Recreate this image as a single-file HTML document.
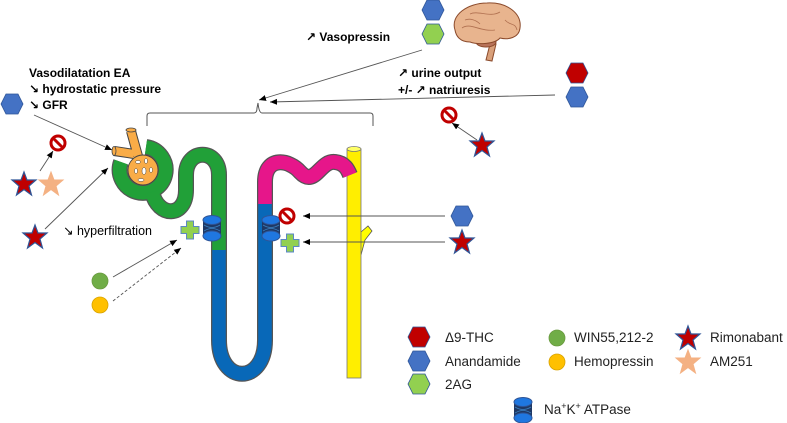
<!DOCTYPE html>
<html><head><meta charset="utf-8"><style>
html,body{margin:0;padding:0;background:#fff;}
svg{display:block;font-family:"Liberation Sans","DejaVu Sans",sans-serif;}
</style></head><body>
<svg width="787" height="423" viewBox="0 0 787 423" xmlns="http://www.w3.org/2000/svg">
<defs>
<marker id="ah" markerWidth="8" markerHeight="8" refX="7" refY="4" orient="auto" markerUnits="userSpaceOnUse">
<path d="M0,1 L7,4 L0,7 Z" fill="#000"/></marker>
<g id="hexB"><polygon points="-6,-10 6,-10 11,0 6,10 -6,10 -11,0" fill="#4472c4" stroke="#2f5597" stroke-width="0.8"/></g>
<g id="hexG"><polygon points="-6,-10 6,-10 11,0 6,10 -6,10 -11,0" fill="#92d050" stroke="#2f5597" stroke-width="0.8"/></g>
<g id="hexR"><polygon points="-6,-10 6,-10 11,0 6,10 -6,10 -11,0" fill="#c00000" stroke="#2f5597" stroke-width="0.8"/></g>
<g id="starR"><polygon points="0,-12 3,-4 12,-4 5,2 7.5,11 0,5.5 -7.5,11 -5,2 -12,-4 -3,-4" fill="#c00000" stroke="#2f5597" stroke-width="1.2"/></g>
<g id="starP"><polygon points="0,-12 3,-4 12,-4 5,2 7.5,11 0,5.5 -7.5,11 -5,2 -12,-4 -3,-4" fill="#f4b183" stroke="#f4b183" stroke-width="1"/></g>
<g id="nope"><circle r="7" fill="#fff" stroke="#c00000" stroke-width="3"/><line x1="-4.5" y1="-4.5" x2="4.5" y2="4.5" stroke="#c00000" stroke-width="3"/></g>
<g id="cross"><polygon points="-3.5,-9 3.5,-9 3.5,-3.5 9,-3.5 9,3.5 3.5,3.5 3.5,9 -3.5,9 -3.5,3.5 -9,3.5 -9,-3.5 -3.5,-3.5" fill="#92d050" stroke="#5b87c5" stroke-width="1"/></g>
<g id="pump"><rect x="-9" y="-9" width="18" height="18" fill="#1f3864"/><ellipse cx="0" cy="-8" rx="9" ry="4.5" fill="#1f77e0" stroke="#2f5597"/><ellipse cx="0" cy="8" rx="9" ry="5" fill="#1f77e0" stroke="#2f5597"/><path d="M-8,-3 Q0,2 8,-3 M-8,3 Q0,-2 8,3" stroke="#3a7fbf" stroke-width="0.8" fill="none"/></g>
</defs>

<!-- bracket -->
<path d="M147,126 L147,116 Q147,113 150,113 L254,113 Q257,113 257,108 L258,103 Q259,113 262,113 L370,113 Q373,113 373,116 L373,126" fill="none" stroke="#555" stroke-width="1"/>
<line x1="422" y1="50" x2="259" y2="100" stroke="#555" stroke-width="0.9" marker-end="url(#ah)"/>
<line x1="555" y1="95" x2="270" y2="102" stroke="#555" stroke-width="0.9" marker-end="url(#ah)"/>

<!-- collecting duct -->
<path d="M361,232 L368,226 L372,231 L365,240 L361,255" fill="#ffff00" stroke="#555" stroke-width="0.8"/>
<rect x="347" y="149" width="14" height="229" fill="#ffee00" stroke="#777" stroke-width="0.8"/>
<ellipse cx="354" cy="149" rx="7" ry="2.5" fill="#ffff66" stroke="#777" stroke-width="0.8"/>

<!-- nephron outline -->
<path d="M219,250 L219,175 C219,148 186,148 186,175 L186,190 C186,218 158,218 152,192" fill="none" stroke="#555" stroke-width="16"/>
<path d="M219,250 L219,340 C219,385 265,385 265,340 L265,200" fill="none" stroke="#555" stroke-width="16"/>
<path d="M265,205 L265,182 C265,155 290,160 300,172 C315,188 320,160 335,162 C345,163 348,170 350,175" fill="none" stroke="#555" stroke-width="16"/>
<path d="M146,147 A23,23 0 1 1 121,162" fill="none" stroke="#555" stroke-width="16"/>
<path d="M146,147 A23,23 0 1 1 121,162" fill="none" stroke="#21a038" stroke-width="13.5"/>
<path d="M219,250 L219,175 C219,148 186,148 186,175 L186,190 C186,218 158,218 152,192" fill="none" stroke="#21a038" stroke-width="13.5"/>
<path d="M219,250 L219,340 C219,385 265,385 265,340 L265,203" fill="none" stroke="#0868b8" stroke-width="13.5"/>
<path d="M265,204 L265,182 C265,155 290,160 300,172 C315,188 320,160 335,162 C345,163 348,170 350,175" fill="none" stroke="#e6168a" stroke-width="13.5"/>

<!-- glomerulus -->
<path d="M114,151 L134,154 M131,131 Q134,142 138,156" fill="none" stroke="#444" stroke-width="10"/>
<path d="M115,151 L134,154 M131,131 Q134,142 138,156" fill="none" stroke="#f9ac47" stroke-width="8"/>
<ellipse cx="114" cy="151" rx="2" ry="4.5" fill="#f9ac47" stroke="#444" stroke-width="0.8"/>
<ellipse cx="131" cy="130" rx="5" ry="2" fill="#f9ac47" stroke="#444" stroke-width="0.8"/>
<circle cx="143" cy="170" r="15" fill="#f9ac47" stroke="#444" stroke-width="0.9"/>
<g fill="#fff" stroke="#444" stroke-width="0.5">
<ellipse cx="138" cy="162" rx="2.5" ry="1.5"/><ellipse cx="146" cy="161" rx="1.5" ry="2.5"/><ellipse cx="136" cy="171" rx="1.5" ry="2.5"/><ellipse cx="144" cy="171" rx="2" ry="3.5"/><ellipse cx="151" cy="170" rx="1.5" ry="2.5"/><ellipse cx="141" cy="180" rx="3" ry="1.5"/>
</g>

<use href="#pump" x="212" y="228"/>
<use href="#cross" x="190" y="230"/>
<use href="#pump" x="271" y="228"/>
<use href="#nope" x="287" y="216"/>
<use href="#cross" x="290" y="243"/>

<line x1="445" y1="216" x2="303" y2="216" stroke="#555" stroke-width="0.9" marker-end="url(#ah)"/>
<line x1="445" y1="242" x2="303" y2="242" stroke="#555" stroke-width="0.9" marker-end="url(#ah)"/>
<use href="#hexB" x="462" y="216"/>
<use href="#starR" x="462" y="242"/>

<text x="29" y="77" font-size="12" font-weight="bold">Vasodilatation EA</text>
<text x="29" y="93" font-size="12" font-weight="bold">↘ hydrostatic pressure</text>
<text x="29" y="109" font-size="12" font-weight="bold">↘ GFR</text>
<use href="#hexB" x="12" y="104"/>
<line x1="34" y1="115" x2="112" y2="150" stroke="#555" stroke-width="0.9" marker-end="url(#ah)"/>
<use href="#nope" x="58" y="143"/>
<line x1="40" y1="171" x2="53" y2="151" stroke="#555" stroke-width="0.9" marker-end="url(#ah)"/>
<use href="#starR" x="24" y="184"/>
<use href="#starP" x="51" y="184"/>
<use href="#starR" x="35" y="237"/>
<line x1="45" y1="229" x2="108" y2="168" stroke="#555" stroke-width="0.9" marker-end="url(#ah)"/>
<text x="63" y="235" font-size="12.5">↘ hyperfiltration</text>
<circle cx="100" cy="281" r="8" fill="#70ad47" stroke="#6a9a40" stroke-width="0.8"/>
<circle cx="100" cy="305" r="8" fill="#ffc000" stroke="#d9a300" stroke-width="0.8"/>
<line x1="113" y1="277" x2="177" y2="240" stroke="#555" stroke-width="0.9" marker-end="url(#ah)"/>
<line x1="113" y1="301" x2="181" y2="248" stroke="#555" stroke-width="0.9" stroke-dasharray="3,2" marker-end="url(#ah)"/>

<text x="306" y="41" font-size="12" font-weight="bold">↗ Vasopressin</text>
<use href="#hexB" x="433" y="10"/>
<use href="#hexG" x="433" y="34"/>
<g stroke="#8b4a2b" stroke-width="1">
<path d="M490,44 L496,44 L492,61 L486,60 Z" fill="#d9a07a"/>
<ellipse cx="486" cy="42" rx="10" ry="5" fill="#b8735a"/>
<path d="M455,30 C450,15 468,3 487,3 C508,2 522,14 520,28 C519,38 508,40 500,38 C495,44 478,45 470,42 C460,42 456,36 455,30 Z" fill="#e8b48e"/>
</g>
<path d="M462,28 C470,22 480,32 495,30 M470,14 C478,10 490,18 500,12 M505,20 C510,26 515,22 517,30 M465,20 C470,18 476,20 480,24" stroke="#b07050" stroke-width="0.8" fill="none"/>
<text x="398" y="77" font-size="12" font-weight="bold">↗ urine output</text>
<text x="398" y="94" font-size="12" font-weight="bold">+/- ↗ natriuresis</text>
<use href="#hexR" x="577" y="73"/>
<use href="#hexB" x="577" y="97"/>
<use href="#nope" x="449" y="115"/>
<line x1="477" y1="140" x2="452" y2="123" stroke="#555" stroke-width="0.9" marker-end="url(#ah)"/>
<use href="#starR" x="482" y="145"/>

<use href="#hexR" x="419" y="337"/>
<use href="#hexB" x="419" y="361"/>
<use href="#hexG" x="419" y="384"/>
<g font-size="13.5" fill="#222">
<text x="445" y="342">Δ9-THC</text>
<text x="445" y="366">Anandamide</text>
<text x="445" y="389">2AG</text>
<text x="574" y="342">WIN55,212-2</text>
<text x="574" y="366">Hemopressin</text>
<text x="710" y="342">Rimonabant</text>
<text x="710" y="366">AM251</text>
<text x="544" y="414">Na<tspan font-size="9" dy="-5">+</tspan><tspan dy="5">K</tspan><tspan font-size="9" dy="-5">+</tspan><tspan dy="5"> ATPase</tspan></text>
</g>
<circle cx="557" cy="338" r="8" fill="#70ad47" stroke="#6a9a40" stroke-width="0.8"/>
<circle cx="557" cy="362" r="8" fill="#ffc000" stroke="#d9a300" stroke-width="0.8"/>
<use href="#starR" x="688" y="338"/>
<use href="#starP" x="688" y="362"/>
<use href="#pump" x="523" y="410"/>
</svg>
</body></html>
